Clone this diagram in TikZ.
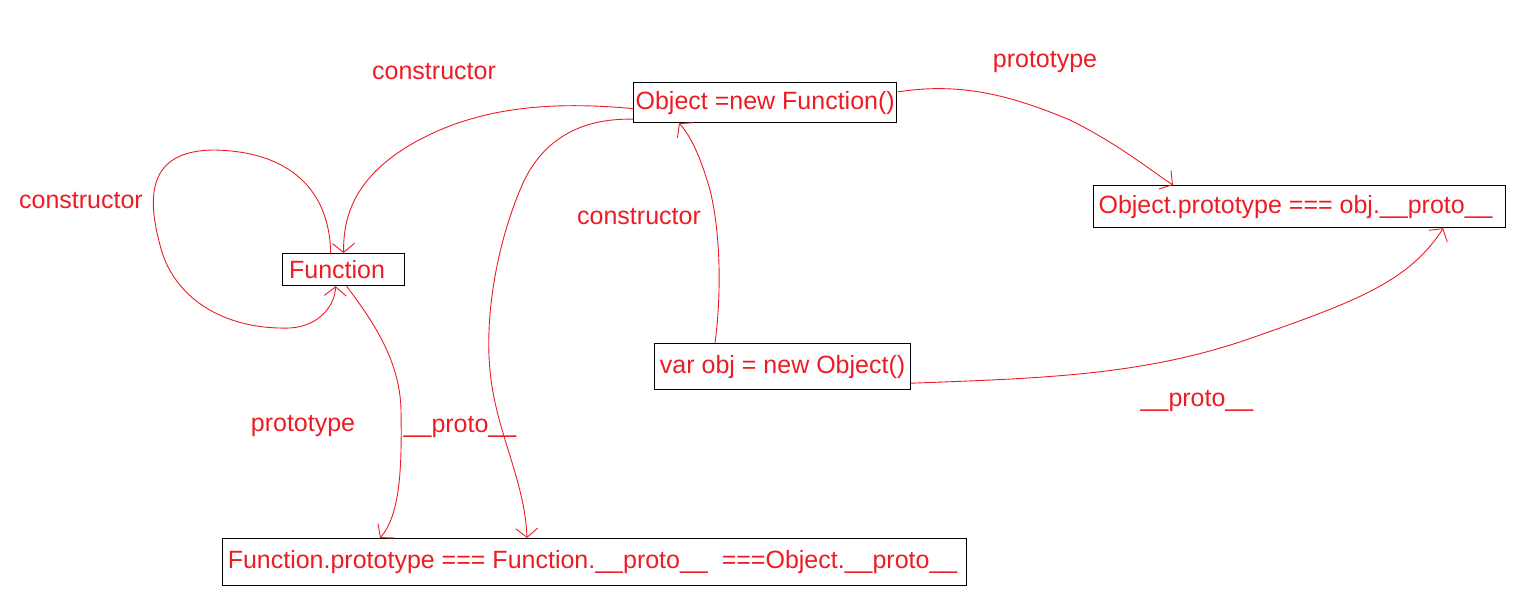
\documentclass[tikz,border=0pt]{standalone}
\usepackage{fontspec}
\setmainfont{Liberation Sans}
\usetikzlibrary{arrows.meta}
\definecolor{paintred}{RGB}{237,28,36}

\begin{document}
\begin{tikzpicture}[x=1pt, y=-1pt, font=\fontsize{25}{30}\selectfont,
    box/.style={draw=black, line width=1.2pt, text=paintred, anchor=north west, inner xsep=2pt, inner ysep=0pt},
    tag/.style={text=paintred, inner sep=0pt},
    link/.style={paintred, line width=0.9pt, -{Straight Barb[length=9pt, width=22pt]}}]
  \useasboundingbox (0,0) rectangle (1518,613);
  % objects
  \node[box, minimum width=263pt, minimum height=40pt] (objfn) at (633,82) {Object =new Function()};
  \node[box, minimum width=412pt, minimum height=42pt] (objproto) at (1093,185) {Object.prototype === obj.\_\_proto\_\_\hspace*{8pt}};
  \node[box, minimum width=122pt, minimum height=32pt] (fn) at (282,253) {Function\hspace*{13pt}};
  \node[box, minimum width=256pt, minimum height=46pt] (objinst) at (654,343) {var obj = new Object()};
  \node[box, minimum width=744pt, minimum height=47pt] (fnproto) at (222,538) {Function.prototype === Function.\_\_proto\_\_~ ===Object.\_\_proto\_\_\hspace*{4pt}};
  % labels
  \node[tag] (ctorTop) at (434,72) {constructor};
  \node[tag] (protoTop) at (1045,62) {prototype};
  \node[tag] (ctorLoop) at (81,201) {constructor};
  \node[tag] (ctorObj) at (639,217) {constructor};
  \node[tag] (protoFn) at (303,426) {prototype};
  \node[tag] (dunderFn) at (460,427) {\_\_proto\_\_};
  \node[tag] (dunderObj) at (1197,401) {\_\_proto\_\_};
  % links
  \draw[link] ([yshift=-6pt]objfn.west) .. controls (540,100) and (470,110) .. (410,145) .. controls (360,175) and (343,210) .. (fn.north);
  \draw[link] ([xshift=-13pt]fn.north) .. controls (330,200) and (300,152) .. (215,150) .. controls (145,150) and (148,200) .. (160,245) .. controls (172,295) and (220,330) .. (290,328) .. controls (320,326) and (335,305) .. ([xshift=-8pt]fn.south);
  \draw[link] ([xshift=3pt]fn.south) .. controls (372,320) and (400,360) .. (401,410) .. controls (402,470) and (400,515) .. ([xshift=158pt]fnproto.north west);
  \draw[link] ([yshift=4pt]objfn.south west) .. controls (580,118) and (540,140) .. (520,190) .. controls (495,250) and (485,320) .. (490,370) .. controls (495,430) and (525,480) .. ([xshift=305pt]fnproto.north west);
  \draw[link] ([xshift=61pt]objinst.north west) .. controls (722,290) and (720,230) .. (710,190) .. controls (700,155) and (690,135) .. ([xshift=46pt]objfn.south west);
  \draw[link] ([yshift=-10pt]objfn.north east) .. controls (960,82) and (1010,95) .. (1070,120) .. controls (1120,145) and (1150,170) .. ([xshift=80pt]objproto.north west);
  \draw[link] ([yshift=7pt]objinst.south east) .. controls (1050,378) and (1150,375) .. (1260,335) .. controls (1360,300) and (1410,280) .. ([xshift=-63pt]objproto.south east);
\end{tikzpicture}
\end{document}
